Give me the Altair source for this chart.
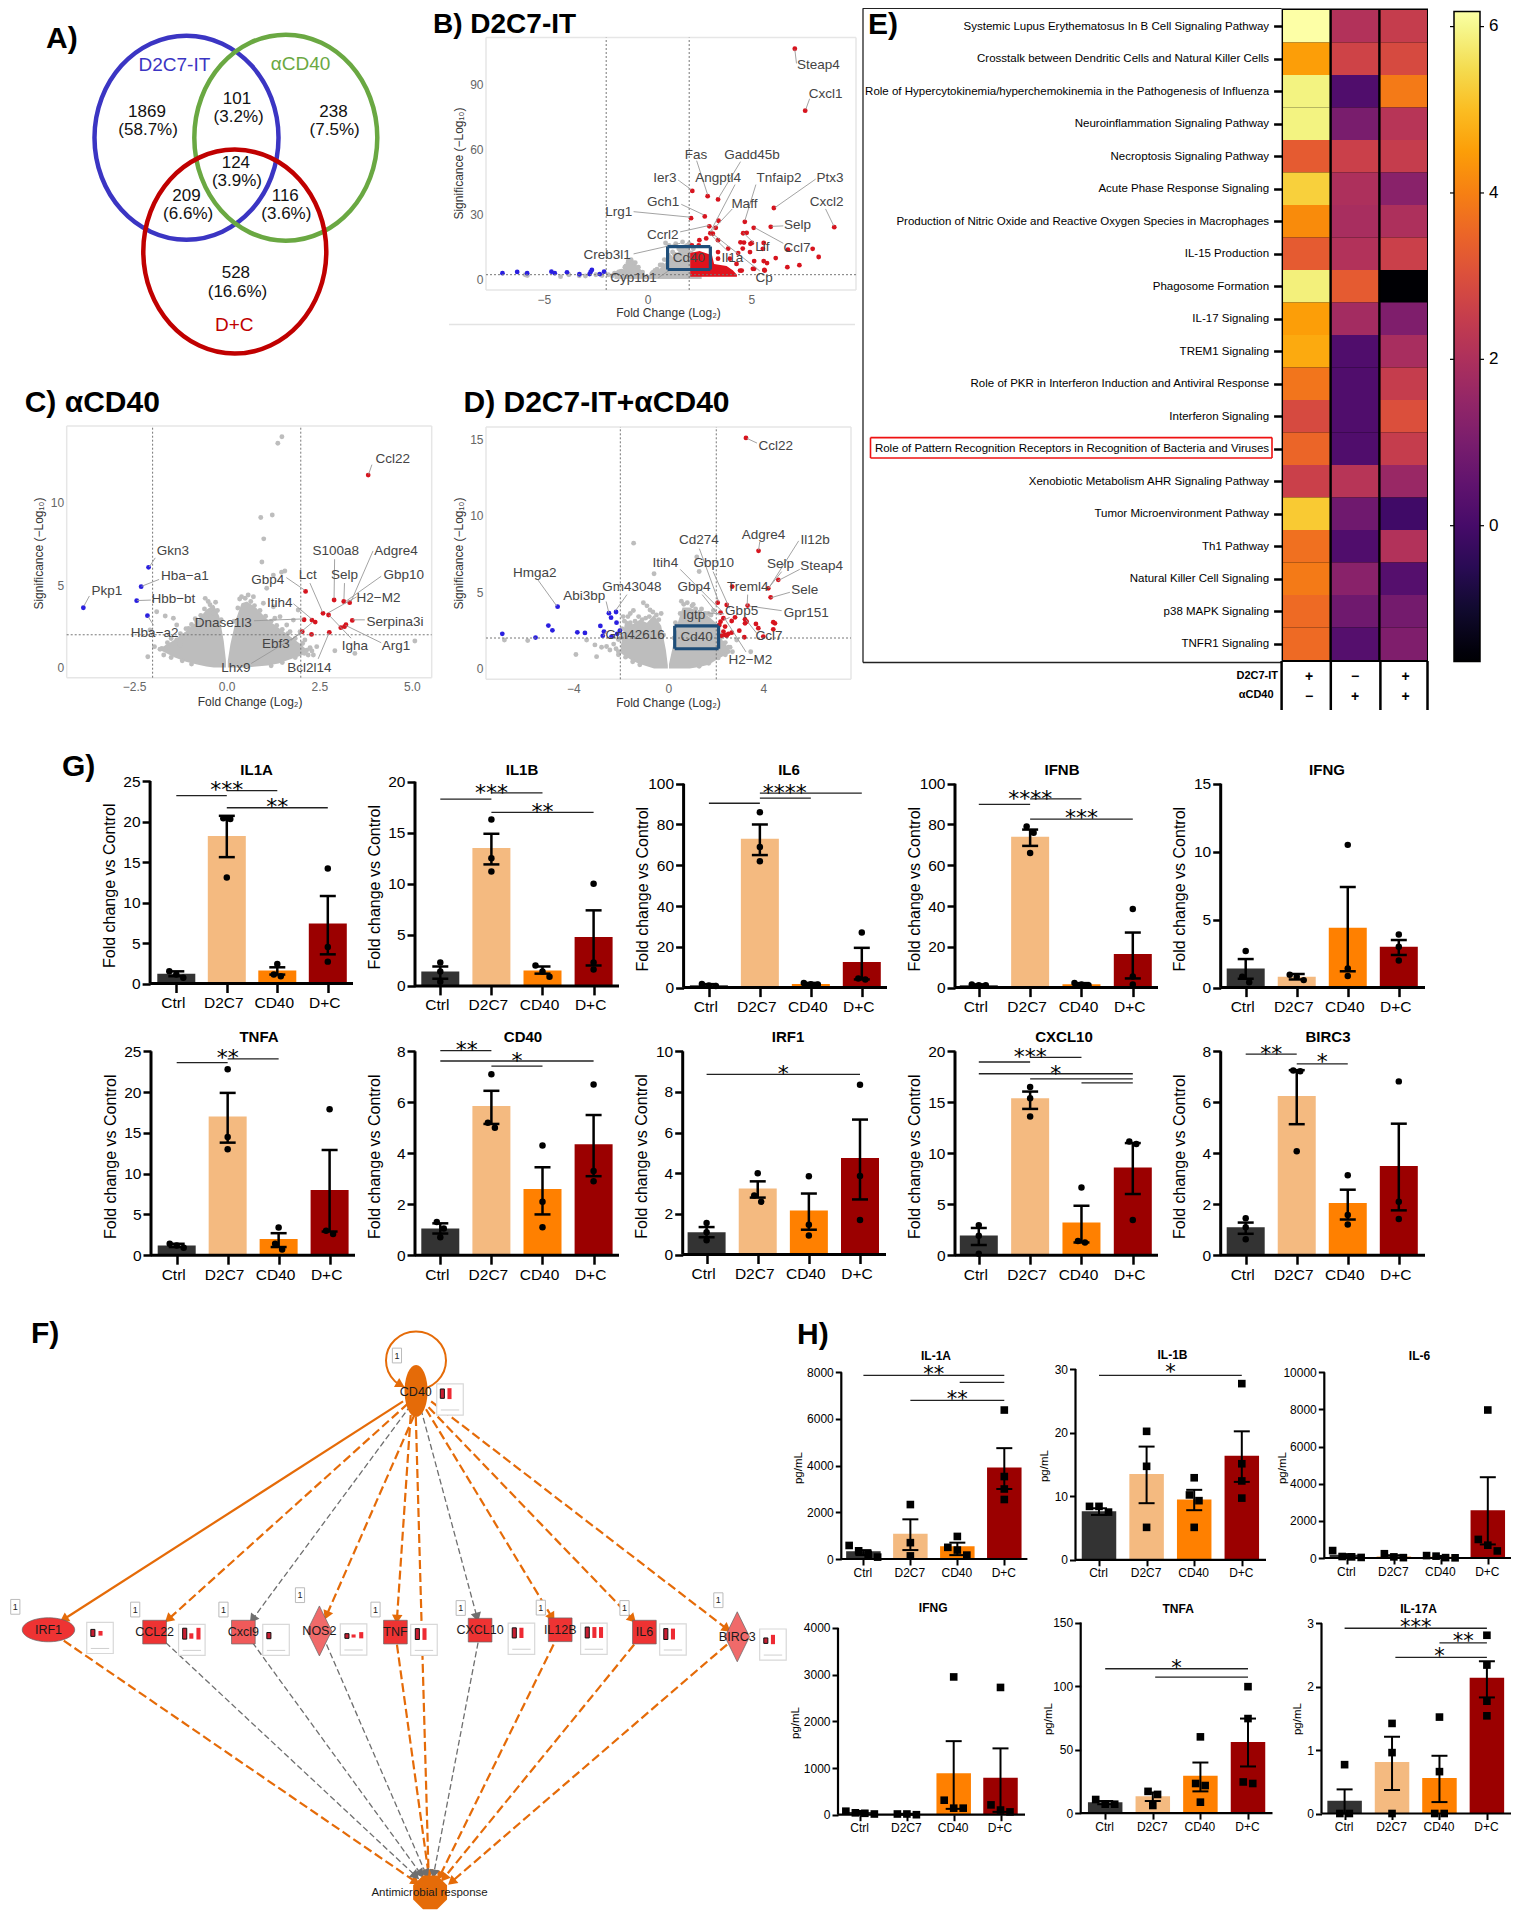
import json
import math
import altair as alt
import pandas as pd

OX, OY, VW, VH = 8, 8, 1503, 1904
SANS = "Liberation Sans"
GROUPS = ["Ctrl", "D2C7", "CD40", "D+C"]
BAR_COLORS = ["#333333", "#f4ba80", "#ff8000", "#9b0000"]

# ---------- B volcano ----------
B_BLUE = [(-7.0,2.7),(-6.29,3.3),(-5.81,2.7),(-4.64,3.4),(-4.48,2.7),(-3.89,3.1),(-3.29,2.2),(-2.8,2.3),(-2.69,4.2),(-2.75,3.3),(-2.1,3.4),(-2.31,2.3)]
B_RED = [(7.09,106.7),(7.59,78),(2.15,40.8),(2.89,38.4),(3.39,36.9),(6.08,32.9),(2.09,28.2),(2.75,29),(4.68,26.5),(3.41,27),(2.97,24.4),(3.28,23.7),(5.93,24.2),(5.11,23.7),(8.99,24),(3.02,21.2),(4.6,21.2),(4.47,17),(4.95,16.3),(4.77,21.4),(4.64,16.9),(5.02,16.7),(4.58,14.1),(5.59,16.7),(5.55,14),(4.93,12.5),(6.17,9.7),(6.76,13.6),(7.95,14),(8.24,10.2),(7.31,6.4),(6.73,5.5),(5.62,4.2),(5.13,4.7),(4.45,3.9),(5.59,8.3),(5.75,7.4),(5.13,8.3),(4.36,12),(3.88,14.1),(3.39,18),(3.39,12.5),(2.82,18.8),(2.49,18),(3.14,21),(2.46,15.6),(2.13,15.6),(4.28,7),(3.96,9.4),(3.39,9.4),(4.53,3.9),(5.07,4.7),(5.64,3.9)]
B_GRAY = [(.86,16.7),(1.03,15.6),(1.35,16.4),(1.68,17.2),(2.0,16.4),(-.93,8.6),(-.8,8.9),(-.7,7.5),(-1.1,5.5),(-1.3,3.5),(-1.5,2.5),(-5.8,1.6),(-4.2,1.1),(-3.8,2),(-3,1.4),(-2.5,2),(-2.2,1.6),(-1.9,2),(-1.6,2.7),(-1.4,3.3),(-1,2.4),(.2,2.5),(.35,4),(.6,6.5),(.8,9),(1,11),(1.2,12.5),(1.5,14),(1.8,15),(2.1,12),(2.3,9),(2.5,3.5),(-5.9,2.0),(-3.3,1.5),
          (-1.7,1.5),(-1.45,2.2),(-1.25,3.6),(-1.05,6),(-.95,7.5),(-.6,7.5),(-.45,5.5),(-.25,3.2),(.1,1),(.25,3),(.45,4.5),(.7,6.5),(.95,8.5),(1.1,10),(1.3,11.5),(1.65,13.8),(1.9,15.5),(2.2,14),(2.4,8),(2.55,5),(2.7,2.5)]
B_LOBES = [[(-1.6,2.3,0),(-1.2,4,0),(-.9,8.5,0),(-.7,8.5,0),(-.5,6,0),(-.3,4,0),(-.1,2,0),(-.03,.3,0)],
           [(.05,.5,0),(.3,3.5,0),(.6,5,0),(.9,8,0),(1.2,10,0),(1.5,13,0),(2,15,0),(2.2,9,0),(2.4,6,0),(2.6,2,0)]]
B_RED_AREA = [(2.05,12,1),(2.5,13,1),(3.1,11,1),(3.2,7,1),(3.8,6,1),(4.1,4,1),(4.3,2,1)]
B_LABELS = [("Steap4",1492,142,1452,138,1449,108),("Cxcl1",1505,205,1476,215,1469,238),("Fas",1269,337,1270,350,1290,424),("Gadd45b",1371,337,1350,352,1310,431),("Ier3",1212,388,1236,392,1260,413),("Angptl4",1309,388,1340,402,1295,505),("Tnfaip2",1420,388,1378,402,1358,480),("Ptx3",1513,388,1487,390,1413,452),("Gch1",1209,439,1242,445,1283,468),("Maff",1357,444,1335,455,1296,505),("Cxcl2",1507,439,1505,455,1520,492),("Lrg1",1128,461,1155,461,1258,473),("Selp",1454,491,1428,492,1407,493),("Ccrl2",1208,511,1240,505,1293,491),("Lif",1390,537,1375,530,1355,507),("Ccl7",1453,541,1428,530,1376,496),("Creb3l1",1107,555,1155,553,1240,530),("Cd40",1256,562,1256,562,1256,562),("Il1a",1335,562,1325,545,1295,510),("Cyp1b1",1155,606,1200,605,1225,585),("Cp",1393,606,1385,590,1300,510)]

# ---------- C volcano ----------
C_BLUE = [(-2.11,6.07),(-2.31,4.9),(-2.43,4.05),(-2.14,3.14),(-3.87,3.62)]
C_RED = [(3.82,11.67),(2.13,4.61),(2.9,4.09),(3.16,4.0),(3.32,3.93),(2.6,3.28),(2.75,3.18),(2.09,2.89),(2.3,2.87),(2.39,2.75),(3.39,2.85),(3.22,2.59),(3.18,2.47),(3.08,2.41),(2.04,2.17),(2.29,2.0),(2.77,2.13)]
C_GRAY = [(1.49,14.0),(1.38,13.6),(1.23,9.25),(.92,9.1),(1.0,7.8),(.95,6.4),(.4,4.29),(.58,4.39),(.72,4.29),(-.58,4.19),(-.38,3.62),(-1.89,3.38),(-1.66,3.12),(-1.44,2.98),(-1.35,2.57),(-2.07,2.27),(-1.95,1.26),(-2.13,.65),(2.92,1.01),(3.46,.85),(5.08,1.6),(1.08,4.8),(.99,3.89),(1.26,3.68),(2.25,1.15),(2.43,1.26),(2.2,.75),(1.93,3.48),(1.8,2.87),(1.44,3.08),(1.62,2.57),(1.3,2.98),(1.48,5.77),(1.57,5.85),(1.26,5.6),(-.36,3.28),(-.54,2.98),(-.81,2.77),(-1.03,2.37),(-1.17,1.86),(-1.35,1.66),(-1.62,1.21),(-1.75,1.15),(-1.26,1.36),(2.11,1.66),(2.34,.75),(2.16,1.05),(1.98,2.17),(1.71,2.17),(1.8,1.56),
          (-1.8,1.1),(-1.6,1.5),(-1.5,1.75),(-1.25,2.05),(-1.1,2.35),(-.95,2.6),(-.85,2.95),(-.7,3.15),(-.6,3.55),(-.45,3.8),(-.3,3.95),(-.25,3.45),(-.15,2.9),(-.5,4.0),(-1.7,.75),(-1.5,.6),(-1.2,.4),(-.95,.2),
          (.2,2.8),(.3,3.6),(.35,4.15),(.5,4.2),(.65,4.0),(.75,3.75),(.9,3.45),(1.05,3.1),(1.2,2.8),(1.35,2.55),(1.5,2.3),(1.65,2.05),(1.85,1.75),(2.05,1.45),(2.25,1.2),(1.2,.1),(1.5,.3),(1.85,.6),(2.1,.85),(2.3,1.0)]
C_LOBES = [[(-1.75,1.2,1.0),(-1.4,1.7,.6),(-1.1,2.2,.35),(-.8,2.8,.18),(-.55,3.5,.06),(-.35,3.8,0),(-.2,3.1,0),(-.08,1.6,0),(-.02,.4,0)],
           [(.03,.4,0),(.1,1.4,0),(.25,2.9,0),(.4,3.9,0),(.55,4.0,0),(.8,3.6,.06),(1.1,2.9,.12),(1.4,2.4,.24),(1.7,1.9,.48),(2.0,1.4,.7),(2.2,1.0,.9)]]
C_LABELS = [("Ccl22",716,1000,678,1012,672,1033),("Gkn3",315,1200,283,1215,272,1235),("Hba\u2212a1",337,1254,290,1262,258,1277),("Pkp1",195,1288,163,1298,153,1320),("Hbb\u2212bt",316,1305,275,1307,250,1308),("Hba\u2212a2",282,1379,280,1362,270,1343),("S100a8",612,1201,610,1218,609,1303),("Adgre4",722,1201,680,1200,640,1310),("Gbp10",736,1252,695,1255,630,1310),("Gbp4",488,1263,522,1258,555,1285),("Lct",561,1252,565,1270,588,1333),("Selp",628,1253,628,1270,627,1305),("H2\u2212M2",690,1303,650,1300,598,1335),("Itih4",510,1314,535,1315,568,1348),("Dnase1l3",407,1356,463,1352,553,1348),("Serpina3i",720,1355,665,1350,643,1350),("Ebf3",503,1403,530,1395,570,1355),("Igha",647,1406,640,1390,600,1340),("Arg1",722,1406,695,1400,630,1362),("Lhx9",430,1454,458,1445,552,1377),("Bcl2l14",564,1454,580,1435,600,1378)]

# ---------- D volcano ----------
D_BLUE = [(-4.66,4.05),(-2.5,3.62),(-2.2,3.7),(-2.41,3.33),(-2.18,3.0),(-5.05,2.81),(-4.88,2.5),(-2.86,2.79),(-3.83,2.37),(-3.51,2.33),(-6.99,2.27),(-5.59,2.03),(-2.71,2.42),(-2.76,2.14),(-2.04,2.48),(-2.15,2.27),(-2.39,2.09)]
D_RED = [(3.27,15.08),(3.8,7.7),(4.63,5.8),(4.21,5.25),(4.31,4.66),(2.69,5.36),(3.34,4.12),(2.08,4.31),(2.46,4.16),(2.2,3.66),(4.42,3.03),(4.49,2.96),(3.23,3.22),(3.3,3.07),(3.23,2.96),(2.81,3.35),(2.67,3.11),(2.32,3.29),(2.2,3.07),(2.15,2.85),(3.69,2.92),(3.79,2.64),(2.99,2.48),(3.2,2.05),(4,2.09),(4.42,2.57),(2.39,2.75),(2.25,2.14),(2.39,2.2),(2.53,2.27),(2.67,2.35),(2.32,2.42),(2.46,2.14)]
D_GRAY = [(-6.9,1.87),(-5.92,1.83),(-3.89,.92),(-3.44,1.87),(-3.02,.78),(-3.09,1.55),(-2.81,1.4),(-2.6,1.44),(-2.46,1.22),(-2.1,.9),(-.6,6.2),(-1.05,4.3),(-1.46,8.2),(1.3,6.35),(1.2,7.3),(-1.47,3.8),(-1.9,3.4),(-.9,4.1),(1.05,4.2),(.77,3.8),(1.33,3.7),(3.47,1.1),(2.88,1.87),(2.53,1.4),(2.32,1.66),(2.18,1.1),(1.9,3.8),(1.68,3.6),(-2.3,1.6),(-2.0,2.0),(-1.6,3.6),(.3,3.0),(.55,4.4),(-.3,3.6),(-.77,3.83),
          (-2.2,1.3),(-2.1,1.9),(-1.95,2.6),(-1.85,3.1),(-1.7,3.4),(-1.6,3.0),(-1.4,3.1),(-1.25,3.4),(-1.1,3.2),(-.95,3.3),(-.8,3.4),(-.65,3.7),(-.5,3.5),(-.4,3.2),(-.2,2.2),(-2.1,1.1),(-1.8,.75),(-1.5,.45),(-1.2,.25),
          (.25,2.0),(.35,2.8),(.5,3.6),(.65,4.2),(.8,4.3),(1.0,4.1),(1.15,3.9),(1.4,3.9),(1.55,3.6),(1.8,3.5),(2.1,2.8),(2.2,2.2),(2.4,1.7),(2.6,1.4),(2.7,1.1),(1.3,.15),(1.7,.35),(2.1,.7),(2.4,.9)]
D_LOBES = [[(-2.0,1.5,1.0),(-1.8,3.2,.8),(-1.5,2.9,.5),(-1.2,3.2,.3),(-.9,3.0,.15),(-.6,3.5,0),(-.3,2.8,0),(-.1,1.2,0),(-.02,.2,0)],
           [(.03,.3,0),(.2,1.5,0),(.4,3.0,0),(.6,4.0,0),(.9,4.0,0),(1.3,3.7,.1),(1.7,3.4,.25),(2.0,3.0,.55),(2.3,1.8,.8),(2.6,1.2,1.0)]]
D_LABELS = [("Ccl22",1414,972,1380,965,1362,955),("Adgre4",1392,1165,1385,1180,1383,1198),("Il12b",1486,1176,1456,1178,1402,1280),("Cd274",1274,1176,1275,1195,1310,1310),("Selp",1423,1228,1425,1245,1400,1282),("Steap4",1498,1233,1458,1240,1418,1265),("Itih4",1213,1227,1240,1240,1315,1330),("Gbp10",1301,1227,1300,1245,1330,1325),("Hmga2",975,1247,980,1262,1015,1320),("Treml4",1363,1278,1363,1295,1362,1320),("Sele",1467,1284,1440,1290,1405,1302),("Gm43048",1152,1278,1143,1295,1122,1330),("Gbp4",1265,1278,1280,1295,1310,1340),("Abi3bp",1065,1298,1105,1310,1110,1335),("Gbp5",1352,1330,1330,1345,1320,1350),("Igtp",1265,1340,1290,1335,1320,1337),("Gpr151",1470,1335,1425,1330,1365,1320),("Gm42616",1158,1384,1105,1375,1100,1385),("Cd40",1270,1388,1270,1388,1270,1388),("Ccl7",1402,1385,1380,1380,1360,1350),("H2\u2212M2",1368,1437,1360,1420,1320,1345)]

# ---------- E heat map ----------
PATHWAYS = ["Systemic Lupus Erythematosus In B Cell Signaling Pathway","Crosstalk between Dendritic Cells and Natural Killer Cells","Role of Hypercytokinemia/hyperchemokinemia in the Pathogenesis of Influenza","Neuroinflammation Signaling Pathway","Necroptosis Signaling Pathway","Acute Phase Response Signaling","Production of Nitric Oxide and Reactive Oxygen Species in Macrophages","IL-15 Production","Phagosome Formation","IL-17 Signaling","TREM1 Signaling","Role of PKR in Interferon Induction and Antiviral Response","Interferon Signaling","Role of Pattern Recognition Receptors in Recognition of Bacteria and Viruses","Xenobiotic Metabolism AHR Signaling Pathway","Tumor Microenvironment Pathway","Th1 Pathway","Natural Killer Cell Signaling","p38 MAPK Signaling","TNFR1 Signaling"]
Z_COL1 = [6.2,4.5,5.9,5.9,3.3,5.3,4.2,3.3,5.85,4.5,4.7,3.8,2.9,3.5,2.6,5.2,3.7,3.9,3.6,3.6]
Z_COL2 = [2.1,2.7,.2,1.0,2.6,2.0,1.9,2.1,3.3,1.8,.2,.2,.2,.2,2.2,.8,.2,1.3,.8,.3]
Z_COL3 = [2.5,2.9,3.9,2.2,2.5,1.3,2.0,2.6,-1.63,1.1,1.9,2.5,3.0,2.5,1.6,-.1,2.1,.3,.9,1.1]

# ---------- G bars: (mean, lo, hi, points) ----------
G = {
 "IL1A": [(1.2,.9,1.5,[1.5,1.1,.7]),(18.2,15.6,20.7,[20.3,20.4,13.1]),(1.6,1.1,2.0,[2.4,1.1,.9]),(7.4,3.6,10.8,[14.2,4.5,2.7])],
 "IL1B": [(1.4,.7,1.9,[2.3,1.4,.4]),(13.5,11.9,14.9,[16.3,12.5,11.2]),(1.5,1.2,1.9,[2.0,1.4,.9]),(4.8,2.0,7.4,[10.0,2.3,1.6])],
 "IL6": [(1.2,.5,1.7,[1.8,1,.8]),(73,65,80,[86,69,62]),(1.8,1.2,2.3,[2.3,1.7,1.5]),(12.5,4,19.5,[27,4.5,4])],
 "IFNB": [(1.2,.9,1.6,[1.5,1.2,1.2]),(74,69.5,77.5,[79,76,66]),(1.7,1.2,2.2,[2.3,1.5,1.2]),(16.5,4.5,27,[38.5,5.5,1.5])],
 "IFNG": [(1.4,.65,2.1,[2.7,.8,.4]),(.8,.6,1,[.95,.8,.55]),(4.4,1.2,7.4,[10.5,1.4,.85]),(3.0,2.4,3.5,[3.9,3.0,2.0])],
 "TNFA": [(1.2,1.0,1.4,[1.4,1.2,.9]),(17,13.8,19.9,[22.8,14.5,13]),(2,1,2.7,[3.4,1.4,.7]),(8,2.9,12.9,[17.9,3.0,2.6])],
 "CD40": [(1.05,.85,1.25,[1.3,1.05,.7]),(5.85,5.15,6.45,[7.1,5.2,5.0]),(2.6,1.6,3.45,[4.3,2.1,1.1]),(4.35,3.1,5.5,[6.7,3.3,2.9])],
 "IRF1": [(1.1,.85,1.35,[1.55,1.1,.7]),(3.25,2.8,3.6,[4.0,2.9,2.6]),(2.17,1.22,3.0,[3.85,1.47,.93]),(4.75,2.71,6.64,[8.35,3.86,1.7])],
 "CXCL10": [(1.93,1,2.67,[2.95,1.9,.15]),(15.4,14.35,16.05,[16.5,15.4,13.6]),(3.2,1.25,4.85,[6.65,1.25,1.4]),(8.6,6,11,[11.15,10.9,3.45])],
 "BIRC3": [(1.1,.84,1.28,[1.45,1.1,.63]),(6.25,5.14,7.26,[7.25,7.22,4.08]),(2.05,1.4,2.57,[3.14,1.58,1.2]),(3.5,1.76,5.16,[6.82,2.1,1.42])],
}
# lines (x1, x2, y) and stars (x, y, text)
G_SIG = {
 "IL1A": ([(1,2,23.2),(2,3,23.8),(2,4,21.7)],[(2,24.4,"***"),(3,22.3,"**")]),
 "IL1B": ([(1,2,18.3),(2,3,18.9),(2,4,17)],[(2,19.3,"***"),(3,17.5,"**")]),
 "IL6": ([(1,2,90.4),(2,3,92.9),(2,4,95.4)],[(2.49,97.7,"****")]),
 "IFNB": ([(1,2,89.9),(2,3,92.6),(2,4,82.6)],[(2,94.6,"****"),(3,85.3,"***")]),
 "IFNG": ([],[]),
 "TNFA": ([(1,2,23.6),(2,3,24.07)],[(2,24.7,"**")]),
 "CD40": ([(1,2,8.03),(1,4,7.62),(2,3,7.42)],[(1.52,8.23,"**"),(2.5,7.8,"*")]),
 "IRF1": ([(1,4,8.86)],[(2.5,9.1,"*")]),
 "CXCL10": ([(1,2,18.95),(2,3,19.4),(1,4,17.8),(2,4,17.3),(3,4,16.9)],[(2,19.9,"***"),(2.5,18.2,"*")]),
 "BIRC3": ([(1,2,7.89),(2,3,7.51)],[(1.5,8.07,"**"),(2.5,7.76,"*")]),
}
# name: axis px, end px, bar1 px, bar4 px, y0 px, ytop px, ymax, ticks, title x, title y
G_GEOM = {
 "IL1A": (150.1,353,176.3,327.8,983.5,781,25,[0,5,10,15,20,25],256.6,769.6),
 "IL1B": (415,619,440.3,593.6,985.9,781.7,20,[0,5,10,15,20],522,769.6),
 "IL6": (683.6,887,708.9,861.8,987.6,783.7,100,[0,20,40,60,80,100],789,769.6),
 "IFNB": (955,1158,978.8,1132.8,987.6,783.7,100,[0,20,40,60,80,100],1062,769.6),
 "IFNG": (1220.7,1425,1245.7,1398.8,987.6,783.7,15,[0,5,10,15],1327,769.6),
 "TNFA": (151,355,176.7,329.6,1255.2,1051.3,25,[0,5,10,15,20,25],259,1036.5),
 "CD40": (415,619,440.3,593.6,1255.2,1051.3,8,[0,2,4,6,8],523,1036.5),
 "IRF1": (682.7,886,706.6,860,1254.5,1051.3,10,[0,2,4,6,8,10],788,1036.5),
 "CXCL10": (955,1158,978.8,1132.8,1255.2,1051.3,20,[0,5,10,15,20],1064,1036.5),
 "BIRC3": (1220.7,1425,1245.7,1398.8,1255.2,1051.3,8,[0,2,4,6,8],1328,1036.5),
}

# ---------- H bars ----------
H = {
 "IL-1A": [(333,170,380,[580,350,200,80]),(1083,383,1700,[2333,700,133]),(550,167,700,[967,500,383,167]),(3917,3000,4750,[6383,3533,3000,2550])],
 "IL-1B": [(7.65,7.05,8.1,[8.4,8.4,7.5]),(13.5,8.9,17.8,[20.2,14.7,5.1]),(9.5,7.8,11,[12.9,10.2,9.3,5.1]),(16.35,12.25,20.2,[27.7,15.1,12.4,9.7])],
 "IL-6": [(170,20,210,[400,80,60,30]),(100,40,150,[230,60,20]),(70,30,110,[130,100,20,10]),(2570,730,4350,[7970,1000,690,380])],
 "IFNG": [(60,30,80,[75,40,30,15]),(10,0,20,[15,15,0]),(890,125,1575,[2950,310,140,140]),(790,60,1420,[2725,210,100,60])],
 "TNFA": [(8.6,7,9.5,[10.7,7,7]),(13.2,9.5,16.2,[17.1,14.7,6]),(29.4,17.1,39.8,[60,23.3,21.7,8.6]),(56,36.7,74.4,[99.5,74.4,24.5,23.3])],
 "IL-17A": [(.2,0,.38,[.77,0,0]),(.81,.37,1.21,[1.42,.96,0]),(.56,.18,.91,[1.52,.66,0,0]),(2.14,1.83,2.4,[2.81,2.34,1.77,1.54])],
}
H_SIG = {
 "IL-1A": ([(1,4,7867),(3.05,4,7567),(2,4,6800)],[(2.5,8083,"**"),(3.0,7000,"**")]),
 "IL-1B": ([(1,4,29)],[(2.5,30,"*")]),
 "IL-6": ([],[]),
 "IFNG": ([],[]),
 "TNFA": ([(1,4,113.6),(2.05,4,107)],[(2.5,117.2,"*")]),
 "IL-17A": ([(1,4,2.92),(3,4,2.69),(2.07,4,2.46)],[(2.5,2.99,"***"),(3.5,2.77,"**"),(3,2.54,"*")]),
}
H_GEOM = {
 "IL-1A": (841.3,1027.4,863.4,1004.3,1559,1372.3,8000,[0,2000,4000,6000,8000],936,1356,798,1467.6),
 "IL-1B": (1075.5,1266,1099,1241.8,1559.8,1369,30,[0,10,20,30],1172.5,1354.7,1044.8,1465.6),
 "IL-6": (1324.3,1511.9,1346.9,1487.8,1558,1372.3,10000,[0,2000,4000,6000,8000,10000],1419.5,1356,1282.8,1467.6),
 "IFNG": (838,1025,860.1,1000.5,1814.7,1627.9,4000,[0,1000,2000,3000,4000],933.2,1608.4,795,1722.5),
 "TNFA": (1080.7,1272.5,1105.2,1248,1813.1,1622.5,150,[0,50,100,150],1178.2,1609.2,1048.6,1718.6),
 "IL-17A": (1321.5,1511.9,1344.6,1486.9,1813.5,1623.2,3,[0,1,2,3],1418.5,1609,1297,1718.6),
}

# ---------- A venn ----------
VENN_RINGS = [(186.5,137.7,92,102,"#3b35c3"),(285.8,137.7,91.5,103,"#6aa842"),(234.8,251.6,91.5,102,"#c00000")]
VENN_TEXT = [("1869",268,243),("(58.7%)",270,283),("101",432,215),("(3.2%)",435,255),("238",608,243),("(7.5%)",610,283),("124",430,355),("(3.9%)",432,395),("209",340,427),("(6.6%)",343,467),("116",520,427),("(3.6%)",522,467),("528",430,595),("(16.6%)",433,635)]
VENN_NAMES = [("D2C7-IT",318,142,"#3b35c3"),("\u03b1CD40",548,140,"#6aa842"),("D+C",427,708,"#c00000")]

# ---------- F network ----------
NET_RECT = [("CCL22",303,828,"#ee3333"),("Cxcl9",477,828,"#f05a5a"),("TNF",775,828,"#ee3333"),("CXCL10",941,823,"#ee3333"),("IL12B",1098,822,"#ee3333"),("IL6",1263,828,"#ee3333")]
NET_DIAMOND = [("NOS2",626,825,"#f06a6a"),("BIRC3",1445,840,"#f06a6a")]
NET_EDGES = [  # x1,y1,x2,y2,colour,solid,arrow
 (790,235,125,795,"o",1,1),(800,240,330,795,"o",0,1),(805,245,495,795,"g",0,1),(812,270,640,785,"o",0,1),(805,270,778,795,"o",0,1),(825,255,935,790,"g",0,1),(835,255,1082,790,"o",0,1),(840,250,1240,795,"o",0,1),(845,235,1425,820,"o",0,1),(815,275,840,1450,"o",0,1),
 (125,850,815,1470,"o",0,1),(325,855,815,1455,"g",0,1),(495,855,825,1450,"g",0,1),(640,860,835,1450,"g",0,1),(778,860,840,1450,"o",0,1),(937,855,850,1450,"g",0,1),(1085,860,862,1455,"o",0,1),(1243,860,870,1460,"o",0,1),(1425,860,885,1470,"o",0,1)]
NET_BADGES = [(778,117),(30,763),(265,770),(438,770),(588,733),(736,770),(903,766),(1060,765),(1224,766),(1408,746)]
NET_ICONS = [(882,230),(196,843),(376,848),(541,848),(693,847),(831,848),(1022,845),(1164,845),(1319,847),(1515,860)]
NET_MINI = [(867,215,24,1),(881,215,28,0),(182,830,18,1),(197,831,12,0),(362,832,28,1),(375,838,14,0),(389,832,30,0),(527,837,16,1),(680,838,12,1),(693,838,8,0),(708,836,16,0),(818,833,28,1),(832,833,30,0),(1008,830,26,1),(1022,830,26,0),(1151,829,28,1),(1165,829,28,0),(1178,829,28,0),(1305,833,28,1),(1319,833,28,0),(1501,850,14,1),(1515,847,24,0)]


def span(p_a, p_b, a, b, lo, hi):
    k = (b - a) / (p_b - p_a)
    return alt.Scale(domain=[a + (lo - p_a) * k, a + (hi - p_a) * k], nice=False, zero=False, padding=0)

def sx(p_a, p_b, a, b):
    return span(p_a, p_b, a, b, OX, OX + VW)

def sy(p_a, p_b, a, b):
    return span(p_a, p_b, a, b, OY + VH, OY)

PX, PY = sx(8, 1511, 8, 1511), sy(8, 1912, 8, 1912)
Z1X, Z1Y = sx(0, 860, 0, 860 * 1.823), sy(0, 720, 0, 720 * 2.178)
Z5X, Z5Y = sx(0, 800, 0, 1568), sy(1310, 1920, 0, 1568)

def X(f, s, axis=None):
    return alt.X(f, type="quantitative", scale=s, axis=axis)

def Y(f, s, axis=None):
    return alt.Y(f, type="quantitative", scale=s, axis=axis, stack=None)

def rules(rows, xs, ys, **mk):
    df = pd.DataFrame(rows, columns=["x", "y", "x2", "y2"])
    return alt.Chart(df).mark_rule(**mk).encode(x=X("x", xs), y=Y("y", ys), x2=alt.X2("x2"), y2=alt.Y2("y2"))

def texts(rows, xs, ys, **mk):
    df = pd.DataFrame(rows, columns=["t", "x", "y"])
    return alt.Chart(df).mark_text(**{"font": SANS, **mk}).encode(x=X("x", xs), y=Y("y", ys), text=alt.Text("t:N"))

def points(rows, xs, ys, axis_x=None, axis_y=None, **mk):
    df = pd.DataFrame(rows, columns=["x", "y"])
    return alt.Chart(df).mark_point(**{"filled": True, "opacity": 1, **mk}).encode(x=X("x", xs, axis_x), y=Y("y", ys, axis_y))

def ellipse(rx, ry):
    m = max(rx, ry)
    a, b = rx / m, ry / m
    return f"M{-a:.4f},0A{a:.4f} {b:.4f} 0 1 0 {a:.4f} 0A{a:.4f} {b:.4f} 0 1 0 {-a:.4f} 0Z", (2 * m) ** 2

layers = []

# ---------- page annotations ----------
HEAD = dict(fontSize=30, fontWeight="bold", color="black", baseline="middle")
layers.append(texts([("A)", 46, 39), ("C) \u03b1CD40", 24.7, 402.7), ("D) D2C7-IT+\u03b1CD40", 463.5, 402.7), ("E)", 868, 25), ("G)", 62, 767), ("F)", 31, 1334), ("H)", 797, 1335)], PX, PY, align="left", **HEAD))
layers.append(texts([("B) D2C7-IT", 433, 33.4)], PX, PY, align="left", fontSize=28, fontWeight="bold", color="black", baseline="alphabetic"))

# ---------- panel A ----------
for cx, cy, rx, ry, col in VENN_RINGS:
    path, size = ellipse(rx, ry)
    layers.append(points([(cx, cy)], PX, PY, filled=False, shape=path, size=size, stroke=col, strokeWidth=4.5))
layers.append(texts(VENN_TEXT, Z1X, Z1Y, fontSize=17, color="#111", align="center", baseline="middle"))
for n, x, y, col in VENN_NAMES:
    layers.append(texts([(n, x, y)], Z1X, Z1Y, fontSize=19, color=col, align="center", baseline="middle"))

# ---------- panels B, C, D ----------
def volcano(blue, red, gray, lobes, red_area, labels, box, left, right, top, bottom,
            x_a, x_b, y_a, y_b, xticks, yticks, xfmt, ytx, yty, xtx, xty, vl, hl):
    xs = sx(x_a[0], x_b[0], x_a[1], x_b[1])
    ys = sy(y_a[0], y_b[0], y_a[1], y_b[1])
    base = dict(domain=False, grid=False, ticks=False, labelFont=SANS, labelFontSize=12, labelColor="#666",
                titleFont=SANS, titleFontSize=12, titleFontWeight="normal", titleColor="#333", titleBaseline="middle", labelOverlap=False)
    ax_x = alt.Axis(orient="bottom", offset=bottom - (OY + VH), values=xticks, format=xfmt, labelPadding=4,
                    title="Fold Change (Log\u2082)", titleX=xtx - OX, titleY=xty - bottom, **base)
    ax_y = alt.Axis(orient="left", offset=-(left - OX), values=yticks, labelPadding=3, format="d",
                    title="Significance (\u2212Log\u2081\u2080)", titleX=ytx - left, titleY=yty - OY, **base)
    L = []
    xl = [xs.domain[0] + (p - OX) * (xs.domain[1] - xs.domain[0]) / VW for p in (left, right)]
    yl = [ys.domain[0] + (OY + VH - p) * (ys.domain[1] - ys.domain[0]) / VH for p in (bottom, top)]
    L.append(rules([(xl[0], yl[0], xl[1], yl[0]), (xl[0], yl[1], xl[1], yl[1]), (xl[0], yl[0], xl[0], yl[1]), (xl[1], yl[0], xl[1], yl[1])], xs, ys, color="#e6e6e6", strokeWidth=1.5))
    for lobe in lobes:
        df = pd.DataFrame(lobe, columns=["x", "y", "y2"])
        L.append(alt.Chart(df).mark_area(color="#bdbdbd", orient="vertical").encode(x=X("x", xs), y=Y("y", ys), y2=alt.Y2("y2")))
    L.append(points(gray, xs, ys, ax_x, ax_y, color="#bdbdbd", size=24))
    if red_area:
        df = pd.DataFrame(red_area, columns=["x", "y", "y2"])
        L.append(alt.Chart(df).mark_area(color="#e0121c", orient="vertical").encode(x=X("x", xs), y=Y("y", ys), y2=alt.Y2("y2")))
    L.append(points(red, xs, ys, color="#d7141e", size=23))
    L.append(points(blue, xs, ys, color="#2a1fe0", size=23))
    dash = dict(color="#777", strokeWidth=1, strokeDash=[2, 2])
    L.append(rules([(-vl, yl[0], -vl, yl[1]), (vl, yl[0], vl, yl[1]), (xl[0], hl, xl[1], hl)], xs, ys, **dash))
    lead = [(l[3], l[4], l[5], l[6]) for l in labels if l[3] != l[5]]
    L.append(rules(lead, Z1X, Z1Y, color="#999", strokeWidth=0.9))
    L.append(texts([(l[0], l[1], l[2]) for l in labels], Z1X, Z1Y, fontSize=13.5, color="#444", align="center", baseline="middle"))
    if box:
        x1, y1, x2, y2 = box
        L.append(rules([(x1, y1, x2, y1), (x1, y2, x2, y2), (x1, y1, x1, y2), (x2, y1, x2, y2)], Z1X, Z1Y, color="#1f4e79", strokeWidth=3.2))
    return L

layers += volcano(B_BLUE, B_RED, B_GRAY, B_LOBES, B_RED_AREA, B_LABELS, (1217, 537, 1295, 587),
                  486, 856, 37.6, 290, (647.7, 0), (751.45, 5), (279.0, 0), (84.8, 90), [-5, 0, 5], [0, 30, 60, 90], "d",
                  458, 163, 668, 312, 2, 2)
layers.append(rules([(449, 324.6, 855, 324.6)], PX, PY, color="#e3e3e3", strokeWidth=1.5))
layers += volcano(C_BLUE, C_RED, C_GRAY, C_LOBES, None, C_LABELS, None,
                  66.7, 431.7, 426, 677.7, (226.7, 0), (319.3, 2.5), (667.4, 0), (502.6, 10), [-2.5, 0, 2.5, 5], [0, 5, 10], ".1f",
                  38.4, 553, 249.6, 701, 2, 1.98)
layers += volcano(D_BLUE, D_RED, D_GRAY, D_LOBES, None, D_LABELS, (1230, 1363, 1310, 1413),
                  486, 851, 427, 679.3, (668.3, 0), (763.3, 4), (668.6, 0), (439.1, 15), [-4, 0, 4], [0, 5, 10, 15], "d",
                  458, 553, 668, 702.5, 2.02, 2.0)

# ---------- panel E ----------
heat_x = sx(1306.2, 1403.8, 1, 3)
heat_y = sy(26.25, 643.75, 1, 20)
layers.append(rules([(863, 8.3, 1281.6, 8.3), (863, 662.5, 1281.6, 662.5), (863, 8.3, 863, 662.5)], PX, PY, color="#222", strokeWidth=1.3))
back = pd.DataFrame({"x": [1281.6], "x2": [1428], "y": [662], "y2": [8.5]})
layers.append(alt.Chart(back).mark_rect(color="black").encode(x=X("x", PX), x2=alt.X2("x2"), y=Y("y", PY), y2=alt.Y2("y2")))
rows = []
for c, col in enumerate([Z_COL1, Z_COL2, Z_COL3], 1):
    for r, v in enumerate(col, 1):
        rows.append({"x": c - .475, "x2": c + .475, "y": r - .5, "y2": r + .5, "v": v})
heat_axis = alt.Axis(orient="left", offset=-(1281.6 - OX), values=list(range(1, 21)),
                     labelExpr=json.dumps(PATHWAYS) + "[datum.value-1]", domain=False, grid=False, tickSize=8, tickWidth=2.5, tickColor="black",
                     labelFont=SANS, labelFontSize=11.5, labelColor="black", labelLimit=600, labelPadding=5, labelOverlap=False, title=None)
legend = alt.Legend(orient="none", legendX=1454 - OX, legendY=11.5 - OY, direction="vertical", title=None, values=[0, 2, 4, 6], format="d",
                    gradientLength=650, gradientThickness=26, gradientStrokeColor="black", gradientStrokeWidth=1.5,
                    labelFont=SANS, labelFontSize=17, labelColor="black", labelOffset=9, labelOverlap=False)
layers.append(alt.Chart(pd.DataFrame(rows)).mark_rect().encode(
    x=X("x", heat_x), x2=alt.X2("x2"), y=Y("y", heat_y, heat_axis), y2=alt.Y2("y2"),
    color=alt.Color("v:Q", scale=alt.Scale(scheme="inferno", domain=[-1.63, 6.18]), legend=legend)))
layers.append(rules([(870.5, 437.6, 1272, 437.6), (870.5, 458, 1272, 458), (870.5, 437.6, 870.5, 458), (1272, 437.6, 1272, 458)], PX, PY, color="#ee1111", strokeWidth=1.6))
layers.append(rules([(x, 661, x, 710) for x in (1281.6, 1330.8, 1380.4, 1427.5)], PX, PY, color="black", strokeWidth=2.5))
layers.append(texts([("D2C7-IT", 1278, 676), ("\u03b1CD40", 1273.6, 694.6)], PX, PY, fontSize=11, fontWeight="bold", color="black", align="right", baseline="middle"))
layers.append(texts([("+", 1309, 677), ("\u2212", 1355, 677), ("+", 1405.6, 677), ("\u2212", 1309, 696.5), ("+", 1355, 696.5), ("+", 1405.6, 696.5)], PX, PY, fontSize=14, fontWeight="bold", color="black", align="center", baseline="middle"))
cbar_y = sy(525.7, 26.6, 0, 6)
cb_rows = []
for v in (0, 2, 4, 6):
    cb_rows.append((1450, v, 1458, v))
    cb_rows.append((1476, v, 1484, v))
df = pd.DataFrame(cb_rows, columns=["x", "y", "x2", "y2"])
layers.append(alt.Chart(df).mark_rule(color="black", strokeWidth=1.2).encode(x=X("x", PX), x2=alt.X2("x2"), y=Y("y", cbar_y)))

# ---------- bar panels ----------
def swarm(vals, kx, ky, r):
    order = sorted(vals, reverse=True)
    out, group = [], [order[0]]
    for v in order[1:]:
        if abs(group[-1] - v) * ky < r:
            group.append(v)
        else:
            out.append(group)
            group = [v]
    out.append(group)
    res = []
    for g in out:
        for i, v in enumerate(g):
            res.append(((i - (len(g) - 1) / 2) * r / kx, v))
    return res

def bar_panel(name, data, sig, geom, st):
    ax, end, b1, b4, y0, yt, ymax, ticks = geom[:8]
    xs, ys = sx(b1, b4, 1, 4), sy(y0, yt, 0, ymax)
    kx = (b4 - b1) / 3
    ky = (y0 - yt) / ymax
    xleft, xend = 1 + (ax - b1) / kx, 1 + (end - b1) / kx
    common = dict(domain=False, grid=False, tickColor="black", tickWidth=st["tw"], labelFont=SANS, labelColor="black",
                  labelFontSize=st["fs"], labelOverlap=False)
    ax_x = alt.Axis(orient="bottom", offset=y0 - (OY + VH), values=[1, 2, 3, 4], tickSize=st["tsx"], labelPadding=st["lpx"],
                    labelOffset=st["lox"], labelExpr=json.dumps(GROUPS) + "[datum.value-1]", title=None, **common)
    ytx, yty = st["ytx"], st["yty"]
    ax_y = alt.Axis(orient="left", offset=-(ax - OX), values=ticks, tickSize=st["tsy"], labelPadding=2, title=st["ytitle"], format="d",
                    titleX=ytx - ax, titleY=yty - OY, titleFont=SANS, titleFontSize=st["tfs"], titleFontWeight="normal", titleColor="black",
                    titleBaseline="middle", **common)
    bars = pd.DataFrame({"x": [1, 2, 3, 4], "y": [d[0] for d in data], "c": BAR_COLORS})
    L = [alt.Chart(bars).mark_bar(size=st["bw"], orient="vertical").encode(
        x=X("x", xs, ax_x), y=Y("y", ys, ax_y), color=alt.Color("c:N", scale=None, legend=None))]
    cap = st["cap"] / kx
    err = []
    pts = []
    for i, d in enumerate(data, 1):
        err += [(i, d[1], i, d[2]), (i - cap, d[1], i + cap, d[1]), (i - cap, d[2], i + cap, d[2])]
        pts += [(i + off, v) for off, v in swarm(d[3], kx, ky, st["r"])]
    L.append(rules([(xleft, 0, xend, 0), (xleft, 0, xleft, ymax)], xs, ys, color="black", strokeWidth=st["axw"]))
    L.append(points(pts, xs, ys, color="black", shape=st["shape"], size=st["ps"]))
    L.append(rules(err, xs, ys, color="black", strokeWidth=st["ew"]))
    lines, stars = sig
    if lines:
        L.append(rules([(a, y, b, y) for a, b, y in lines], xs, ys, color="#222", strokeWidth=1.3))
    if stars:
        L.append(texts([(t, x, y) for x, y, t in stars], xs, ys, font="DejaVu Sans", fontSize=st["sfs"], dy=st["sdy"], color="black", align="center", baseline="middle"))
    return L

GT = []
for name, geom in G_GEOM.items():
    st = dict(tw=2.5, fs=15.5, tsx=9, tsy=8, lpx=3, lox=-3.5, ytitle="Fold change vs Control", tfs=16,
              ytx=geom[0] - 41, yty=(geom[4] + geom[5]) / 2 + 3, bw=38, cap=8, r=7, axw=3, shape="circle", ps=42, ew=2.5, sfs=22, sdy=4.6)
    layers += bar_panel(name, G[name], G_SIG[name], geom, st)
    GT.append((name, geom[8], geom[9]))
layers.append(texts(GT, PX, PY, fontSize=15, fontWeight="bold", color="black", align="center", baseline="middle"))

HT = []
for name, geom in H_GEOM.items():
    st = dict(tw=2, fs=12, tsx=6, tsy=6, lpx=2, lox=-1, ytitle="pg/mL", tfs=11.5,
              ytx=geom[10], yty=geom[11], bw=34.5, cap=8, r=9.5, axw=2.2, shape="square", ps=58, ew=2, sfs=21, sdy=4.4)
    layers += bar_panel(name, H[name], H_SIG[name], geom, st)
    HT.append((name, geom[8], geom[9]))
layers.append(texts(HT, PX, PY, fontSize=12, fontWeight="bold", color="black", align="center", baseline="middle"))

# ---------- panel F ----------
ORANGE, GRAY = "#e56b08", "#6f6f6f"
loop_path, loop_size = ellipse(30, 29)
layers.append(points([(416, 1360.6)], PX, PY, filled=False, shape=loop_path, size=loop_size, stroke=ORANGE, strokeWidth=2))
for col_key, col in (("o", ORANGE), ("g", GRAY)):
    for solid in (1, 0):
        sel = [e for e in NET_EDGES if e[4] == col_key and e[5] == solid]
        if not sel:
            continue
        mk = dict(color=col, strokeWidth=(2.2 if col_key == "o" else 1.3))
        if not solid:
            mk["strokeDash"] = [9, 4] if col_key == "o" else [6, 3]
        layers.append(rules([e[:4] for e in sel], Z5X, Z5Y, **mk))
    heads = []
    for e in NET_EDGES:
        if e[4] == col_key:
            a = math.degrees(math.atan2((e[2] - e[0]) / 1.96, -(e[3] - e[1]) / 2.57)) % 360
            heads.append({"x": e[2], "y": e[3], "a": a})
    layers.append(alt.Chart(pd.DataFrame(heads)).mark_point(shape="triangle-up", filled=True, opacity=1, size=110, color=col).encode(
        x=X("x", Z5X), y=Y("y", Z5Y), angle=alt.Angle("a:Q", scale=None)))
layers.append(alt.Chart(pd.DataFrame({"x": [785], "y": [192], "a": [120.0]})).mark_point(shape="triangle-up", filled=True, opacity=1, size=110, color=ORANGE).encode(
    x=X("x", Z5X), y=Y("y", Z5Y), angle=alt.Angle("a:Q", scale=None)))

node_stroke = dict(stroke="#666", strokeWidth=0.7)
for n, x, y, col in NET_RECT:
    layers.append(points([(x, y)], Z5X, Z5Y, shape="square", size=560, fill=col, **node_stroke))
for n, x, y, col in NET_DIAMOND:
    layers.append(points([(x, y)], Z5X, Z5Y, shape="M0,-1L0.49,0L0,1L-0.49,0Z", size=2500, fill=col, **node_stroke))
irf_path, irf_size = ellipse(26.2, 12)
layers.append(points([(95, 822)], Z5X, Z5Y, shape=irf_path, size=irf_size, fill="#ee3333", stroke="#666", strokeWidth=0.7))
cd_path, cd_size = ellipse(11.5, 26)
layers.append(points([(815.5, 208)], Z5X, Z5Y, shape=cd_path, size=cd_size, fill=ORANGE))
layers.append(points([(843, 1497)], Z5X, Z5Y, shape="M-0.42,-1L0.42,-1L1,-0.42L1,0.42L0.42,1L-0.42,1L-1,0.42L-1,-0.42Z", size=1150, fill=ORANGE))

def boxes(rows, fill, stroke, sw):
    df = pd.DataFrame(rows, columns=["x", "y", "x2", "y2"])
    return alt.Chart(df).mark_rect(fill=fill, stroke=stroke, strokeWidth=sw).encode(x=X("x", Z5X), x2=alt.X2("x2"), y=Y("y", Z5Y), y2=alt.Y2("y2"))

layers.append(boxes([(x - 26, y - 40, x + 26, y + 40) for x, y in NET_ICONS], "white", "#d8d8d8", 1.2))
layers.append(rules([(x - 18, y + 27, x + 18, y + 27) for x, y in NET_ICONS], Z5X, Z5Y, color="#cfcfcf", strokeWidth=1))
layers.append(boxes([(x - 4, y - h / 2, x + 4, y + h / 2) for x, y, h, dark in NET_MINI if dark], "#c81e32", "#111", 1))
layers.append(boxes([(x - 4, y - h / 2, x + 4, y + h / 2) for x, y, h, dark in NET_MINI if not dark], "#ee2a33", "#ee2a33", 0))
layers.append(boxes([(x - 9, y - 19, x + 9, y + 19) for x, y in NET_BADGES], "white", "#bbbbbb", 1))
layers.append(texts([("1", x, y) for x, y in NET_BADGES], Z5X, Z5Y, fontSize=9, color="#222", align="center", baseline="middle"))
node_labels = [(n, x, y) for n, x, y, _ in NET_RECT + NET_DIAMOND] + [("IRF1", 95, 822), ("CD40", 815, 210)]
layers.append(texts(node_labels, Z5X, Z5Y, fontSize=12.5, color="#1a1a1a", align="center", baseline="middle"))
layers.append(texts([("Antimicrobial response", 842, 1498)], Z5X, Z5Y, fontSize=11.5, color="#1a1a1a", align="center", baseline="middle"))

chart = (
    alt.layer(*layers)
    .resolve_scale(x="independent", y="independent", color="independent")
    .resolve_axis(x="independent", y="independent")
    .properties(width=VW, height=VH, padding=0, background="white", autosize=alt.AutoSizeParams(type="none"))
    .configure_view(stroke=None)
)
chart.save("out.html", embed_options={"renderer": "svg", "actions": False})
